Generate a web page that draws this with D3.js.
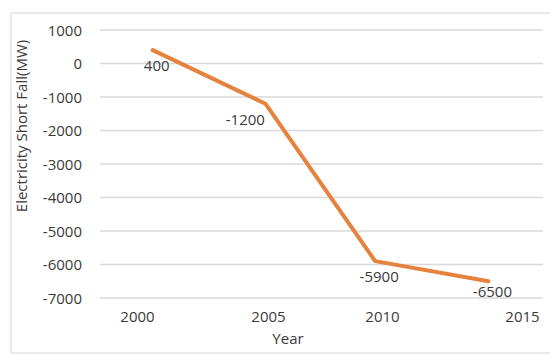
<!DOCTYPE html>
<html>
<head>
<meta charset="utf-8">
<script src="https://cdn.jsdelivr.net/npm/d3@7"></script>
<style>
  html, body { margin: 0; padding: 0; background: #fff; }
  svg { display: block; }
  text { font-family: "Open Sans", sans-serif; fill: #3a3a3a; }
</style>
</head>
<body>
<svg id="chart" width="550" height="354"></svg>
<script>
// ---- data ----
const years = [2000.6, 2004.9, 2009.7, 2013.8];
const shortfall = [400, -1200, -5900, -6500];
const pointLabels = ["400", "-1200", "-5900", "-6500"];
const labelSide = ["below", "left", "below", "below"];
const xTicks = [2000, 2005, 2010, 2015];
const yTicks = [1000, 0, -1000, -2000, -3000, -4000, -5000, -6000, -7000];
const xTitle = "Year";
const yTitle = "Electricity Short Fall(MW)";

const svg = d3.select("#chart");

// chart border
svg.append("rect")
  .attr("x", 11).attr("y", 13)
  .attr("width", 560).attr("height", 340)
  .attr("fill", "none").attr("stroke", "#e4e4e4").attr("stroke-width", 1.5);

const plotLeft = 100, plotRight = 543;
const x = d3.scaleLinear().domain(xTicks).range([137, 268, 382, 522]);
const y = d3.scaleLinear().domain([1000, -7000]).range([30, 298]);

// gridlines
svg.append("g").selectAll("line").data(yTicks).join("line")
  .attr("x1", plotLeft).attr("x2", plotRight)
  .attr("y1", d => y(d)).attr("y2", d => y(d))
  .attr("stroke", "#d9d9d9").attr("stroke-width", 1.3);

// y axis labels
const yAxis = d3.axisLeft(y).tickValues(yTicks).tickSize(0).tickPadding(0).tickFormat(d => String(d));
const gy = svg.append("g").attr("transform", "translate(82,0)").call(yAxis);
gy.select(".domain").remove();
gy.selectAll("text").attr("font-size", 15).attr("font-family", "Open Sans, sans-serif").attr("fill", "#3a3a3a").attr("dy", "0.35em");

// x axis labels
const xAxis = d3.axisBottom(x).tickValues(xTicks).tickSize(0).tickPadding(0).tickFormat(d => String(d));
const gx = svg.append("g").attr("transform", "translate(0,311)").call(xAxis);
gx.select(".domain").remove();
gx.selectAll("text").attr("font-size", 15).attr("font-family", "Open Sans, sans-serif").attr("fill", "#3a3a3a");

// axis titles
svg.append("text")
  .attr("x", 288).attr("y", 344)
  .attr("text-anchor", "middle").attr("font-size", 15)
  .text(xTitle);
svg.append("text")
  .attr("transform", "translate(27,126) rotate(-90)")
  .attr("text-anchor", "middle").attr("font-size", 15)
  .text(yTitle);

// line
const pts = years.map((yr, i) => ({ x: yr, y: shortfall[i], label: pointLabels[i], side: labelSide[i] }));
svg.append("path")
  .datum(pts)
  .attr("fill", "none")
  .attr("stroke", "#E5823D")
  .attr("stroke-width", 4)
  .attr("stroke-linejoin", "round")
  .attr("stroke-linecap", "round")
  .attr("d", d3.line().x(d => x(d.x)).y(d => y(d.y)));

// data labels
svg.append("g").selectAll("text").data(pts).join("text")
  .attr("x", d => x(d.x) + (d.side === "left" ? -20 : 4))
  .attr("y", (d, i) => y(d.y) + (i === 3 ? 16 : 21))
  .attr("text-anchor", "middle")
  .attr("font-size", 15)
  .text(d => d.label);
</script>
</body>
</html>
